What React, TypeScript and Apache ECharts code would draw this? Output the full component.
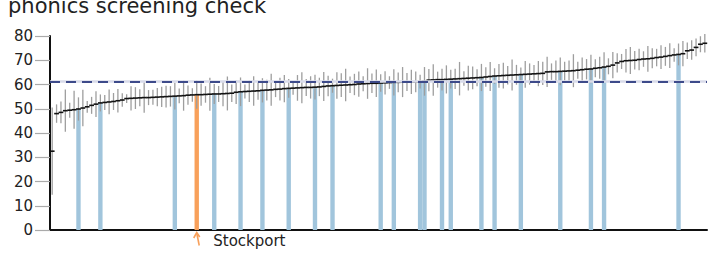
import React, { useEffect, useRef } from 'react';
import * as echarts from 'echarts';

// Percentage meeting the expected standard, local authorities sorted ascending
const values = [
  32.5, 48.0, 48.5, 49.2, 49.4, 49.6, 49.9, 50.3, 50.8, 51.4,
  51.9, 52.4, 52.6, 52.8, 53.0, 53.3, 53.6, 54.2, 54.3, 54.4,
  54.5, 54.6, 54.6, 54.7, 54.8, 54.9, 55.0, 55.1, 55.2, 55.3,
  55.4, 55.6, 55.7, 55.8, 55.8, 55.9, 56.0, 56.1, 56.1, 56.2,
  56.3, 56.4, 56.8, 57.0, 57.1, 57.2, 57.3, 57.4, 57.6, 57.7,
  57.8, 58.0, 58.1, 58.3, 58.4, 58.5, 58.6, 58.7, 58.8, 58.8,
  58.9, 59.0, 59.2, 59.4, 59.5, 59.6, 59.7, 59.8, 59.9, 60.0,
  60.2, 60.3, 60.4, 60.5, 60.5, 60.6, 60.7, 60.8, 60.9, 60.9,
  61.0, 61.0, 61.1, 61.1, 61.2, 61.3, 61.8, 61.9, 62.0, 62.0,
  62.1, 62.2, 62.3, 62.4, 62.5, 62.6, 62.7, 62.8, 62.9, 63.1,
  63.3, 63.5, 63.6, 63.7, 63.8, 63.9, 64.0, 64.1, 64.2, 64.3,
  64.4, 64.5, 64.6, 65.2, 65.3, 65.3, 65.4, 65.5, 65.6, 65.7,
  65.9, 66.1, 66.3, 66.4, 66.7, 66.9, 67.2, 67.5, 68.0, 68.9,
  69.5, 69.8, 69.9, 70.0, 70.3, 70.5, 70.6, 70.8, 71.1, 71.3,
  71.6, 71.9, 72.2, 72.4, 72.7, 73.9, 74.2, 75.3, 76.6, 77.0,
];

// Half-width of each confidence interval
const margins = [
  18.0, 3.8, 4.5, 8.7, 3.1, 7.8, 4.8, 7.5, 2.4, 3.5,
  5.3, 3.5, 3.1, 5.1, 3.5, 4.8, 2.8, 1.8, 5.0, 4.5,
  3.5, 6.3, 3.1, 3.1, 3.8, 4.2, 4.5, 4.2, 5.5, 3.0,
  6.2, 4.0, 2.8, 5.8, 4.6, 3.4, 6.8, 4.1, 3.3, 5.2,
  7.0, 3.6, 4.8, 5.9, 2.9, 4.4, 6.1, 3.7, 5.0, 4.3,
  6.6, 3.2, 4.7, 5.6, 3.9, 2.7, 5.3, 6.4, 3.5, 4.6,
  5.1, 3.8, 6.0, 4.2, 2.9, 5.5, 4.9, 6.7, 3.4, 4.4,
  5.2, 3.1, 6.3, 4.0, 5.7, 3.6, 4.8, 2.6, 5.4, 4.1,
  6.2, 3.7, 5.0, 4.3, 2.8, 5.9, 4.6, 6.5, 3.3, 4.5,
  5.8, 3.9, 4.2, 6.9, 3.0, 5.1, 4.7, 3.5, 5.6, 4.0,
  6.0, 3.2, 4.9, 5.3, 3.8, 6.4, 4.1, 2.9, 5.5, 4.4,
  3.6, 5.2, 4.8, 6.2, 3.4, 4.6, 5.7, 3.9, 4.3, 6.8,
  3.5, 5.0, 4.2, 5.9, 3.7, 4.5, 6.1, 3.3, 5.4, 4.0,
  3.1, 4.8, 5.6, 3.8, 4.4, 3.2, 5.3, 4.1, 3.6, 4.9,
  3.9, 5.1, 2.8, 4.5, 5.2, 3.4, 4.0, 3.7, 3.3, 3.8,
];

const highlighted = [6, 11, 28, 37, 43, 48, 54, 60, 64, 75, 78, 84, 85, 89, 91, 98, 101, 107, 116, 123, 126, 143];
const stockportIndex = 33;
const stockportLabel = 'Stockport';
const englandAverage = 61.2;
const titleText = 'phonics screening check';
const yMin = 0;
const yMax = 80;
const yInterval = 10;

const categories = values.map((_, i) => `LA ${i + 1}`);

const BLUE = '#a1c5dc';
const ORANGE = '#f8a05a';
const FONT = 'DejaVu Sans';

export default function App() {
  const ref = useRef<HTMLDivElement>(null);

  useEffect(() => {
    if (!ref.current) return;
    const chart = echarts.init(ref.current, undefined, { renderer: 'svg' });

    const barData = values.map((v, i) => {
      if (i === stockportIndex) return { value: v, itemStyle: { color: ORANGE } };
      if (highlighted.includes(i)) return { value: v, itemStyle: { color: BLUE } };
      return null;
    });

    const option: any = {
      animation: false,
      graphic: [
        {
          type: 'text',
          x: 8,
          y: 6,
          style: {
            text: titleText,
            fontSize: 21,
            fontFamily: FONT,
            fill: '#222',
            verticalAlign: 'middle',
          },
        },
      ],
      grid: { left: 50, right: 9, top: 36, bottom: 23, containLabel: false },
      xAxis: {
        type: 'category',
        data: categories,
        boundaryGap: true,
        axisLine: { show: true, lineStyle: { color: '#111', width: 2 } },
        axisTick: { show: false },
        axisLabel: { show: false },
        splitLine: { show: false },
      },
      yAxis: {
        type: 'value',
        min: yMin,
        max: yMax,
        interval: yInterval,
        axisLine: { show: true, lineStyle: { color: '#111', width: 2 } },
        axisTick: { show: true, length: 15, lineStyle: { color: '#aaa', width: 1.2 } },
        axisLabel: { fontSize: 15, fontFamily: FONT, color: '#222', margin: 17 },
        splitLine: { show: false },
      },
      series: [
        {
          type: 'line',
          data: [],
          z: 1,
          silent: true,
          markLine: {
            silent: true,
            symbol: 'none',
            label: { show: false },
            data: [
              { yAxis: englandAverage, lineStyle: { color: '#d9dbea', width: 2.5, type: 'solid' } },
              { yAxis: englandAverage, lineStyle: { color: '#3d4a8a', width: 2, type: [10, 6] } },
            ],
          },
        },
        {
          type: 'bar',
          data: barData,
          barWidth: '100%',
          z: 2,
          silent: true,
        },
        {
          type: 'custom',
          z: 3,
          silent: true,
          data: values.map((v, i) => [i, v - margins[i], v + margins[i]]),
          renderItem: (params: any, api: any) => {
            const lo = api.coord([api.value(0), api.value(1)]);
            const hi = api.coord([api.value(0), api.value(2)]);
            return {
              type: 'line',
              shape: { x1: lo[0], y1: lo[1], x2: hi[0], y2: hi[1] },
              style: { stroke: '#9e9e9e', lineWidth: 1.3 },
            };
          },
        },
        {
          type: 'custom',
          z: 4,
          silent: true,
          data: values.map((v, i) => [i, v]),
          renderItem: (params: any, api: any) => {
            const p = api.coord([api.value(0), api.value(1)]);
            const w = api.size([1, 0])[0];
            return {
              type: 'line',
              shape: { x1: p[0] - w / 2 - 0.2, y1: p[1], x2: p[0] + w / 2 + 0.2, y2: p[1] },
              style: { stroke: '#111', lineWidth: 1.6 },
            };
          },
        },
        {
          type: 'custom',
          z: 5,
          silent: true,
          clip: false,
          data: [[stockportIndex, 0]],
          renderItem: (params: any, api: any) => {
            const p = api.coord([api.value(0), api.value(1)]);
            return {
              type: 'group',
              children: [
                {
                  type: 'polyline',
                  shape: { points: [[p[0] + 2.5, p[1] + 15.5], [p[0], p[1] + 3]] },
                  style: { stroke: ORANGE, lineWidth: 1.6, fill: 'none' },
                },
                {
                  type: 'polyline',
                  shape: { points: [[p[0] - 3, p[1] + 8], [p[0], p[1] + 2.5], [p[0] + 3, p[1] + 7]] },
                  style: { stroke: ORANGE, lineWidth: 1.6, fill: 'none' },
                },
                {
                  type: 'text',
                  x: p[0] + 16.5,
                  y: p[1] + 11,
                  style: {
                    text: stockportLabel,
                    fontSize: 15,
                    fontFamily: FONT,
                    fill: '#222',
                    align: 'left',
                    verticalAlign: 'middle',
                  },
                },
              ],
            };
          },
        },
      ],
    };

    chart.setOption(option);
    return () => chart.dispose();
  }, []);

  return (
    <div
      ref={ref}
      style={{ position: 'fixed', left: 0, top: 0, width: 716, height: 253, background: '#fff' }}
    />
  );
}
